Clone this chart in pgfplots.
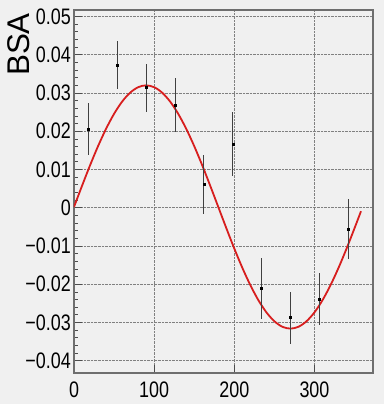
\documentclass[border=0pt]{standalone}
\usepackage{pgfplots}
\pgfplotsset{compat=1.18}
\usepackage{fontspec}
\setmainfont{Liberation Sans}[FakeStretch=0.8]
\newfontfamily\labfont{Liberation Sans}
\definecolor{bg}{RGB}{240,240,240}
\definecolor{fitred}{RGB}{215,30,30}
\definecolor{framec}{RGB}{110,110,110}
\begin{document}
\begin{tikzpicture}
\fill[bg] (-74bp,-31bp) rectangle (310bp,373bp);
\useasboundingbox (-74bp,-31bp) rectangle (310bp,373bp);
\begin{axis}[
  scale only axis, width=299bp, height=363bp,
  xmin=0, xmax=373, ymin=-0.0432, ymax=0.0517,
  xtick={0,100,200,300}, xticklabels={0,100,200,300},
  ytick={-0.04,-0.03,-0.02,-0.01,0,0.01,0.02,0.03,0.04,0.05},
  yticklabels={−0.04,−0.03,−0.02,−0.01,0,0.01,0.02,0.03,0.04,0.05},
  minor y tick num=4,
  xtick pos=bottom, ytick pos=left, tick align=inside,
  major tick length=8bp, minor tick length=4bp,
  grid=major, major grid style={densely dotted, gray, line width=0.6bp},
  axis line style={framec, line width=1.2bp},
  every tick/.style={black!70, line width=0.8bp},
  tick label style={font=\fontsize{22.5}{22.5}\selectfont},
  yticklabel style={inner xsep=3bp, inner ysep=0pt},
  xticklabel style={inner sep=0pt, yshift=-9bp},
  ylabel={\labfont\fontsize{31.5}{31.5}\selectfont BSA},
  ylabel style={at={(axis description cs:-0.184,0.992)}, anchor=east, inner sep=0pt},
  axis background/.style={fill=bg},
]
\addplot[fitred, line width=1.8bp, smooth, no markers] coordinates {
(0,0.0002) (10,0.00572) (20,0.01108) (30,0.0161) (40,0.02064) (50,0.02456)
(60,0.02774) (70,0.03008) (80,0.03152) (90,0.0320) (100,0.03152) (110,0.03008)
(120,0.02774) (130,0.02456) (140,0.02064) (150,0.0161) (160,0.01108) (170,0.00572)
(180,0.0002) (190,-0.00532) (200,-0.01068) (210,-0.0157) (220,-0.02024) (230,-0.02416)
(240,-0.02734) (250,-0.02968) (260,-0.03112) (270,-0.0316) (280,-0.03112) (290,-0.02968)
(300,-0.02734) (310,-0.02416) (320,-0.02024) (330,-0.0157) (340,-0.01068) (350,-0.00532)
(358,-0.00091)
};
\addplot[black, only marks, mark=square*, mark size=1bp,
  error bars/.cd, y dir=both, y explicit,
  error bar style={black!75, line width=1bp}, error mark=none]
  table[x=x, y=y, y error=e] {
x y e
18 0.0206 0.0069
54 0.0373 0.0063
90 0.0314 0.0063
126 0.0268 0.0071
162 0.0061 0.0078
198 0.0167 0.0084
234 -0.0211 0.0080
270 -0.0287 0.0068
306 -0.0238 0.0068
342 -0.0055 0.0079
};
\end{axis}
\end{tikzpicture}
\end{document}
